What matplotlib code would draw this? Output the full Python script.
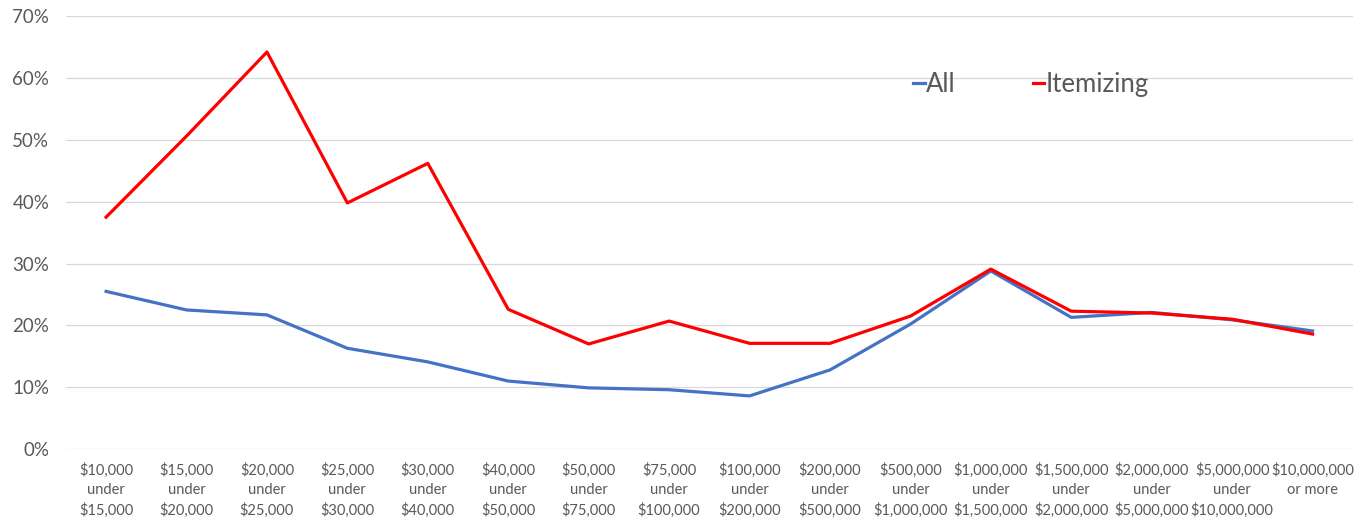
import matplotlib.pyplot as plt
from matplotlib.ticker import PercentFormatter

plt.rcParams['font.family'] = ['Lato', 'DejaVu Sans']

categories = ["$10,000\nunder\n$15,000", "$15,000\nunder\n$20,000", "$20,000\nunder\n$25,000",
              "$25,000\nunder\n$30,000", "$30,000\nunder\n$40,000", "$40,000\nunder\n$50,000",
              "$50,000\nunder\n$75,000", "$75,000\nunder\n$100,000", "$100,000\nunder\n$200,000",
              "$200,000\nunder\n$500,000", "$500,000\nunder\n$1,000,000", "$1,000,000\nunder\n$1,500,000",
              "$1,500,000\nunder\n$2,000,000", "$2,000,000\nunder\n$5,000,000", "$5,000,000\nunder\n$10,000,000",
              "$10,000,000\nor more"]
all_vals = [25.5, 22.5, 21.7, 16.3, 14.1, 11.0, 9.9, 9.6, 8.6, 12.8, 20.2, 28.8, 21.3, 22.1, 20.9, 19.1]
itemizing = [37.5, 50.6, 64.2, 39.8, 46.2, 22.6, 17.0, 20.7, 17.1, 17.1, 21.5, 29.1, 22.3, 22.0, 21.0, 18.6]

gray = "#595959"
x = list(range(len(categories)))

fig, ax = plt.subplots(figsize=(13.72, 5.21), dpi=100)
fig.subplots_adjust(left=0.048, right=0.986, top=0.969, bottom=0.138)

ax.plot(x, all_vals, color="#4472C4", lw=2.3, label="All")
ax.plot(x, itemizing, color="#FF0000", lw=2.3, label="Itemizing")

ax.set_xlim(-0.5, len(categories) - 0.5)
ax.set_ylim(0, 70)
ax.set_yticks(range(0, 71, 10))
ax.yaxis.set_major_formatter(PercentFormatter(decimals=0))
ax.set_xticks(x)
ax.set_xticklabels(categories, fontsize=10.5, color=gray, linespacing=1.48)
ax.tick_params(axis='y', labelsize=13.5, colors=gray, length=0, pad=12)
ax.tick_params(axis='x', length=0, pad=10)
ax.grid(axis='y', color="#D9D9D9", lw=0.9)
ax.set_axisbelow(True)
for s in ax.spines.values():
    s.set_visible(False)

leg = ax.legend(loc='center', bbox_to_anchor=(0.75, 0.843), ncol=2, frameon=False,
                fontsize=18.5, handlelength=0.45, handletextpad=0.05, columnspacing=3.0)
for t in leg.get_texts():
    t.set_color(gray)

fig.savefig("out.png")
